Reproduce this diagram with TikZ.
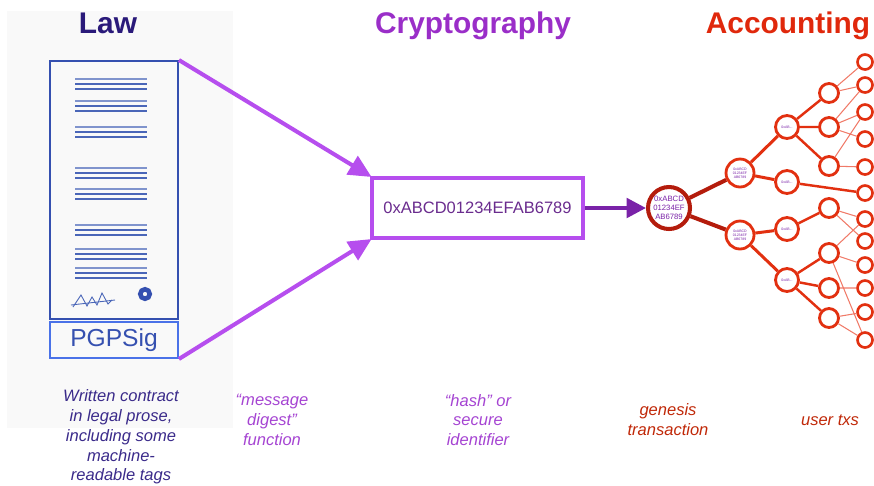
\documentclass[tikz,border=0pt]{standalone}
\usepackage{fontspec}
\setmainfont{Liberation Sans}
\usetikzlibrary{arrows.meta,positioning}
\definecolor{lawink}{HTML}{2A1A7A}
\definecolor{lawcap}{HTML}{3A2A8A}
\definecolor{docblue}{HTML}{3550B0}
\definecolor{sigblue}{HTML}{4A72E8}
\definecolor{linesblue}{HTML}{4A66B8}
\definecolor{cryptink}{HTML}{9A2EC8}
\definecolor{cryptcap}{HTML}{A544D2}
\definecolor{digest}{HTML}{B64EEE}
\definecolor{hashink}{HTML}{6A2C8E}
\definecolor{genarrow}{HTML}{7A22A8}
\definecolor{acctink}{HTML}{E0280C}
\definecolor{gencap}{HTML}{C02808}
\definecolor{genred}{HTML}{B41C0C}
\definecolor{txred}{HTML}{E23010}
\definecolor{thinred}{HTML}{F07A68}
\tikzset{
	every node/.style={
		font=\fontsize{9.4}{11.3}\selectfont
	},
	title/.style={
		font=\fontsize{17}{20}\selectfont\bfseries,
		anchor=base,
		inner sep=0pt
	},
	caption/.style={
		font=\fontsize{9.4}{11.3}\selectfont\itshape,
		align=center,
		inner sep=0pt
	},
	paper/.style={
		shape=rectangle,
		draw=docblue,
		line width=1.1pt,
		minimum width=2.56cm,
		minimum height=5.16cm
	},
	sigbox/.style={
		shape=rectangle,
		draw=sigblue,
		line width=1.1pt,
		minimum width=2.56cm,
		minimum height=0.72cm,
		text=docblue,
		font=\fontsize{14}{16}\selectfont
	},
	hashbox/.style={
		shape=rectangle,
		draw=digest,
		line width=2.2pt,
		minimum width=4.22cm,
		minimum height=1.2cm,
		text=hashink
	},
	digestarrow/.style={
		-{Triangle[length=13pt,width=12pt]},
		draw=digest,
		line width=2.3pt,
		shorten >=-1pt
	},
	genesis/.style={
		shape=circle,
		draw=genred,
		fill=white,
		line width=2.3pt,
		minimum size=0.84cm,
		inner sep=0pt,
		align=center,
		text=genarrow,
		font=\fontsize{4.4}{5}\selectfont
	},
	tx/.style={
		shape=circle,
		draw=txred,
		fill=white,
		line width=1.6pt,
		inner sep=0pt,
		align=center,
		text=genarrow,
		font=\fontsize{2}{2.4}\selectfont
	},
	tx1/.style={tx, minimum size=0.56cm},
	tx2/.style={tx, minimum size=0.46cm},
	tx3/.style={tx, minimum size=0.38cm},
	leaf/.style={tx, minimum size=0.3cm, line width=1.5pt}
}

\begin{document}
\begin{tikzpicture}[x=0.02cm, y=-0.02cm]

	\useasboundingbox (0,0) rectangle (874,485);
	\fill[gray!5] (7,11) rectangle (233,428);

	% titles
	\node[title, text=lawink] (law) at (108,33) {Law};
	\node[title, text=cryptink] (crypto) at (473,33) {Cryptography};
	\node[title, text=acctink] (acct) at (788,33) {Accounting};

	% the contract
	\node[paper] (doc) at (114,190) {};
	\node[sigbox] (pgp) at (114,340) {PGPSig};
	\foreach \y in {79,101,127,168,189,225,249,268} {
		\draw[linesblue!70, line width=0.7pt] (75,\y) -- (147,\y);
		\draw[linesblue, line width=0.8pt] (75,\y+5) -- (147,\y+5);
		\draw[linesblue, line width=0.8pt] (75,\y+10) -- (147,\y+10);
	}
	\draw[linesblue, line width=0.5pt] (73,307) -- (81,295) -- (87,306) -- (92,297) -- (97,305) -- (102,293) -- (108,304) -- (112,300);
	\draw[linesblue, line width=0.5pt] (71,305) -- (115,300);
	\draw[docblue, line width=2.6pt] (145,294) circle (0.095cm);

	% hash
	\node[hashbox] (hash) at (477.5,208) {0xABCD01234EFAB6789};
	\draw[digestarrow] (doc.north east) -- (hash.north west);
	\draw[digestarrow] (pgp.south east) -- (hash.south west);

	% transactions
	\node[genesis] (gen) at (669,208) {0xABCD\\01234EF\\AB6789};
	\draw[-{Triangle[length=11pt,width=11pt]}, genarrow, line width=2.3pt] (hash.east) -- (gen.west);

	\node[tx1] (a1) at (740,173) {0xABCD\\01234EF\\AB6789};
	\node[tx1] (a2) at (740,235) {0xABCD\\01234EF\\AB6789};
	\node[tx2] (b1) at (787,127) {0xAB...};
	\node[tx2] (b2) at (787,182) {0xAB...};
	\node[tx2] (b3) at (787,229) {0xAB...};
	\node[tx2] (b4) at (787,280) {0xAB...};
	\foreach \n/\y in {1/93,2/127,3/166,4/208,5/253,6/288,7/318}
		\node[tx3] (c\n) at (829,\y) {};
	\foreach \n/\y in {1/62,2/85,3/112,4/139,5/167,6/193,7/219,8/241,9/265,10/288,11/312,12/340}
		\node[leaf] (d\n) at (865,\y) {};

	\draw[genred, line width=2.3pt] (gen) -- (a1) (gen) -- (a2);
	\draw[txred, line width=1.7pt] (a1) -- (b1) (a1) -- (b2) (a2) -- (b3) (a2) -- (b4);
	\draw[txred, line width=1.4pt] (b1) -- (c1) (b1) -- (c2) (b1) -- (c3) (b2) -- (d6)
		(b3) -- (c4) (b4) -- (c5) (b4) -- (c6) (b4) -- (c7);
	\draw[thinred, line width=0.6pt] (c1) -- (d1) (c1) -- (d2) (c2) -- (d2) (c2) -- (d3) (c2) -- (d4)
		(c3) -- (d3) (c3) -- (d5) (c4) -- (d7) (c4) -- (d8) (c5) -- (d7) (c5) -- (d9) (c5) -- (d12)
		(c6) -- (d10) (c7) -- (d11) (c7) -- (d12);

	% captions
	\node[caption, text=lawcap] (lawtxt) at (121,437) {Written contract\\in legal prose,\\including some\\machine-\\readable tags};
	\node[caption, text=cryptcap] (digesttxt) at (272,420) {“message\\digest”\\function};
	\node[caption, text=cryptcap] (hashtxt) at (478,420) {“hash” or\\secure\\identifier};
	\node[caption, text=gencap] (gentxt) at (668,420) {genesis\\transaction};
	\node[caption, text=gencap] (usertxt) at (830,420) {user txs};

\end{tikzpicture}
\end{document}
